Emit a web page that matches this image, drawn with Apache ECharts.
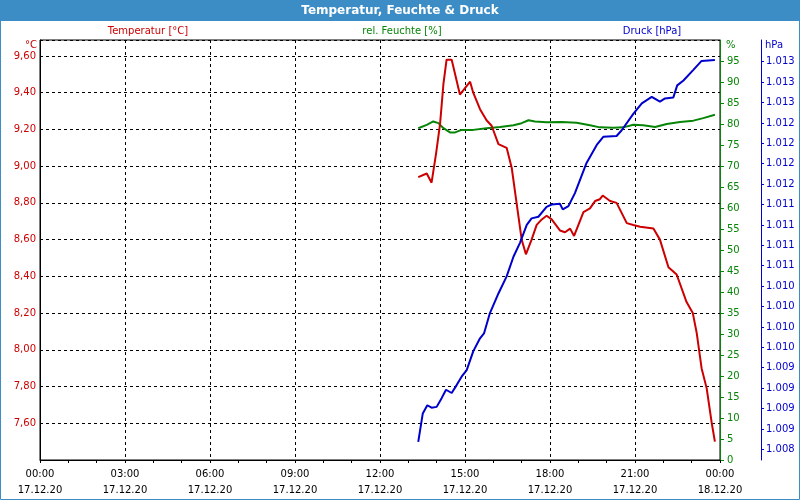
<!DOCTYPE html>
<html>
<head>
<meta charset="utf-8">
<script src="https://cdn.jsdelivr.net/npm/echarts@6/dist/echarts.min.js"></script>
<style>html,body{margin:0;padding:0;background:#fff}#c{width:800px;height:500px}</style>
</head>
<body>
<div id="c"></div>
<script>
// ---- data ----
const xTickLabelsTime = ['00:00','03:00','06:00','09:00','12:00','15:00','18:00','21:00','00:00'];
const xTickLabelsDate = ['17.12.20','17.12.20','17.12.20','17.12.20','17.12.20','17.12.20','17.12.20','17.12.20','18.12.20'];

const tempHours = [13.35,13.65,13.82,13.98,14.12,14.24,14.35,14.53,14.82,15.18,15.29,15.53,15.76,15.94,16.18,16.47,16.65,16.82,17.0,17.15,17.35,17.53,17.71,17.88,18.06,18.35,18.53,18.71,18.85,19.18,19.41,19.59,19.76,19.86,20.12,20.35,20.71,20.94,21.18,21.65,21.88,22.18,22.47,22.82,23.04,23.18,23.35,23.53,23.71,23.82];
const tempValues = [8.94,8.96,8.91,9.07,9.23,9.45,9.58,9.58,9.39,9.46,9.40,9.31,9.25,9.22,9.12,9.10,8.99,8.80,8.60,8.52,8.60,8.68,8.71,8.73,8.71,8.65,8.64,8.66,8.62,8.75,8.77,8.81,8.82,8.84,8.81,8.80,8.69,8.68,8.67,8.66,8.60,8.45,8.41,8.26,8.20,8.09,7.90,7.79,7.60,7.50];

const humHours = [13.35,13.65,13.88,14.06,14.24,14.47,14.65,14.88,15.29,15.76,16.24,16.71,17.0,17.24,17.47,17.88,18.41,18.94,19.41,19.76,20.24,20.59,20.94,21.29,21.71,22.12,22.59,23.06,23.41,23.82];
const humValues = [79.0,79.8,80.6,80.2,79.0,78.0,78.0,78.6,78.6,79.0,79.3,79.7,80.2,80.9,80.6,80.4,80.5,80.3,79.7,79.2,79.1,79.2,79.8,79.7,79.3,80.0,80.5,80.8,81.4,82.2];

const presHours = [13.35,13.51,13.67,13.82,14.0,14.18,14.33,14.53,14.71,14.88,15.06,15.29,15.53,15.67,15.88,16.18,16.47,16.71,16.94,17.18,17.35,17.59,17.88,18.06,18.35,18.45,18.65,18.88,19.29,19.65,19.88,20.35,20.53,20.94,21.24,21.59,21.88,22.06,22.35,22.49,22.71,23.06,23.35,23.82];
const presValues = [1008.34,1008.69,1008.79,1008.76,1008.77,1008.88,1008.98,1008.94,1009.04,1009.14,1009.22,1009.45,1009.61,1009.67,1009.92,1010.16,1010.37,1010.61,1010.78,1011.00,1011.08,1011.10,1011.22,1011.25,1011.26,1011.19,1011.23,1011.39,1011.76,1011.98,1012.08,1012.09,1012.16,1012.36,1012.49,1012.57,1012.51,1012.55,1012.56,1012.71,1012.77,1012.90,1013.01,1013.02];

const presTicks = [1008.25,1008.5,1008.75,1009,1009.25,1009.5,1009.75,1010,1010.25,1010.5,1010.75,1011,1011.25,1011.5,1011.75,1012,1012.25,1012.5,1012.75,1013];

// ---- chart ----
const RED = '#cc0000', GREEN = '#078507', BLUE = '#0000cc';
const FONT = 'DejaVu Sans';
function zip(a, b) { return a.map((v, i) => [v, b[i]]); }
function fmtPres(v) { const s = String(Math.round(v)); return s.slice(0, s.length - 3) + '.' + s.slice(-3); }

const chart = echarts.init(document.getElementById('c'), null, {renderer: 'canvas'});
chart.setOption({
  animation: false,
  backgroundColor: '#ffffff',
  textStyle: {fontFamily: FONT},
  grid: {left: 40, right: 80, top: 40, bottom: 40, show: true, borderColor: '#000', borderWidth: 1, backgroundColor: 'transparent'},
  xAxis: {
    type: 'value', min: 0, max: 24, interval: 3,
    axisLine: {lineStyle: {color: '#000', width: 1}},
    axisTick: {show: true, length: 3, lineStyle: {color: '#000'}},
    minorTick: {show: true, splitNumber: 3, length: 3, lineStyle: {color: '#000'}},
    splitLine: {show: true, lineStyle: {color: '#000', type: [3, 3], width: 1}},
    axisLabel: {
      margin: 6, fontSize: 10, lineHeight: 16, color: '#000', fontFamily: FONT,
      showMinLabel: true, showMaxLabel: true,
      formatter: function (v) { const i = Math.round(v / 3); return xTickLabelsTime[i] + '\n' + xTickLabelsDate[i]; }
    }
  },
  yAxis: [
    {
      type: 'value', position: 'left', min: 7.4, max: 9.687, interval: 0.2,
      axisLine: {show: true, lineStyle: {color: '#000'}},
      axisTick: {show: false},
      splitLine: {show: true, lineStyle: {color: '#000', type: [3, 3], width: 1}},
      axisLabel: {showMinLabel: false, showMaxLabel: false, margin: 4, fontSize: 10, color: RED, fontFamily: FONT,
        formatter: v => v.toFixed(2).replace('.', ',')}
    },
    {
      type: 'value', position: 'right', min: 0, max: 100, interval: 5,
      axisLine: {show: true, lineStyle: {color: GREEN}},
      axisTick: {show: true, length: 4, lineStyle: {color: GREEN}},
      splitLine: {show: false},
      axisLabel: {showMaxLabel: false, margin: 7, fontSize: 10, color: GREEN, fontFamily: FONT}
    },
    {
      type: 'value', position: 'right', offset: 41, min: 1008.119, max: 1013.266,
      axisLine: {show: true, lineStyle: {color: BLUE}},
      axisTick: {show: true, length: 3, lineStyle: {color: BLUE}, customValues: presTicks},
      splitLine: {show: false},
      axisLabel: {margin: 5, fontSize: 10, color: BLUE, fontFamily: FONT, customValues: presTicks, formatter: fmtPres}
    }
  ],
  series: [
    {type: 'line', name: 'Temperatur', yAxisIndex: 0, data: zip(tempHours, tempValues), showSymbol: false, lineStyle: {color: RED, width: 2}, itemStyle: {color: RED}, z: 3},
    {type: 'line', name: 'Feuchte', yAxisIndex: 1, data: zip(humHours, humValues), showSymbol: false, lineStyle: {color: GREEN, width: 2}, itemStyle: {color: GREEN}, z: 2},
    {type: 'line', name: 'Druck', yAxisIndex: 2, data: zip(presHours, presValues), showSymbol: false, lineStyle: {color: BLUE, width: 2}, itemStyle: {color: BLUE}, z: 4}
  ],
  graphic: [
    {type: 'rect', shape: {x: 0, y: 0, width: 800, height: 21}, style: {fill: '#3c8dc6'}, silent: true, z: 0},
    {type: 'rect', shape: {x: 0.5, y: 0.5, width: 799, height: 499}, style: {fill: 'none', stroke: '#3c8dc6', lineWidth: 1}, silent: true, z: 0},
    {type: 'text', x: 400, y: 10.5, style: {text: 'Temperatur, Feuchte & Druck', fill: '#fff', font: 'bold 12px ' + FONT, textAlign: 'center', textVerticalAlign: 'middle'}},
    {type: 'text', x: 148, y: 31, style: {text: 'Temperatur [°C]', fill: RED, font: '10px ' + FONT, textAlign: 'center', textVerticalAlign: 'middle'}},
    {type: 'text', x: 402, y: 31, style: {text: 'rel. Feuchte [%]', fill: GREEN, font: '10px ' + FONT, textAlign: 'center', textVerticalAlign: 'middle'}},
    {type: 'text', x: 652, y: 31, style: {text: 'Druck [hPa]', fill: BLUE, font: '10px ' + FONT, textAlign: 'center', textVerticalAlign: 'middle'}},
    {type: 'text', x: 37, y: 45, style: {text: '°C', fill: RED, font: '10px ' + FONT, textAlign: 'right', textVerticalAlign: 'middle'}},
    {type: 'text', x: 726, y: 45, style: {text: '%', fill: GREEN, font: '10px ' + FONT, textAlign: 'left', textVerticalAlign: 'middle'}},
    {type: 'text', x: 765, y: 45, style: {text: 'hPa', fill: BLUE, font: '10px ' + FONT, textAlign: 'left', textVerticalAlign: 'middle'}}
  ]
});
</script>
</body>
</html>
